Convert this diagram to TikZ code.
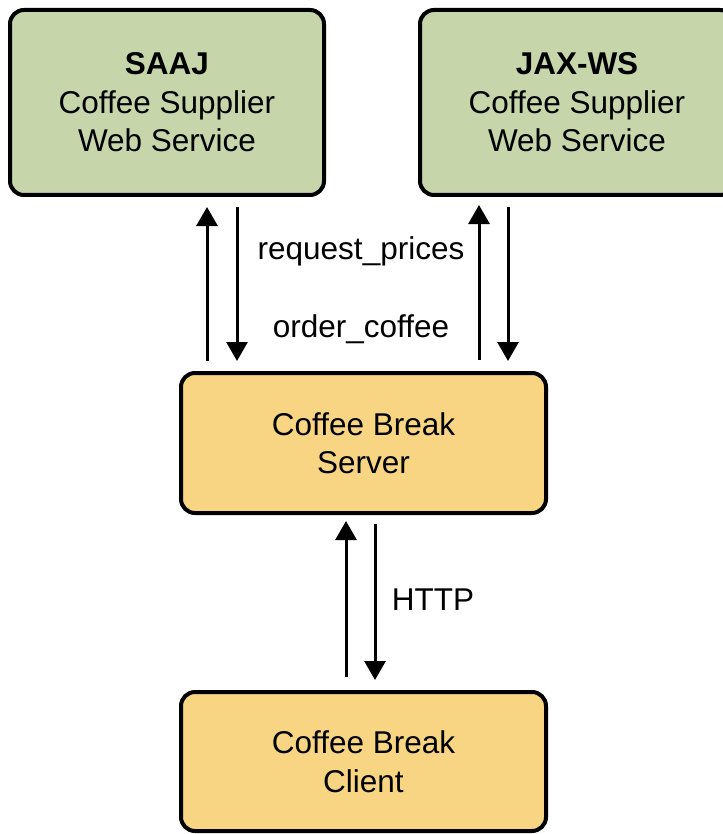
\documentclass[tikz,border=0pt]{standalone}
\usepackage{fontspec}
\setmainfont{Liberation Sans}
\usetikzlibrary{arrows.meta,calc}
\definecolor{boxgreen}{RGB}{198,214,170}
\definecolor{boxyellow}{RGB}{247,213,131}
\begin{document}
\begin{tikzpicture}[x=1pt,y=-1pt,
  box/.style={draw=black, line width=4pt, rounded corners=14pt, align=center,
    inner sep=0pt, font=\fontsize{31.5}{38.5}\selectfont},
  greenbox/.style={box, fill=boxgreen, minimum width=314pt, minimum height=185pt},
  yellowbox/.style={box, fill=boxyellow, minimum width=365pt, minimum height=140pt},
  arr/.style={line width=3pt, -{Triangle[length=19pt,width=21pt]}},
  lbl/.style={font=\fontsize{31.5}{38.5}\selectfont, inner sep=0pt, anchor=base}]
\useasboundingbox (0,0) rectangle (722,834);
\node[greenbox] (saaj) at (167,102.5) {\textbf{SAAJ}\\Coffee Supplier\\Web Service};
\node[greenbox] (jax) at (577,102.5) {\textbf{JAX-WS}\\Coffee Supplier\\Web Service};
\node[yellowbox] (srv) at (363.5,443) {Coffee Break\\Server};
\node[yellowbox, minimum height=139pt] (cli) at (363.5,761.5) {Coffee Break\\Client};
\draw[arr] ($(srv.north)+(-156.5,-10)$) -- ($(saaj.south)+(40,10)$);
\draw[arr] ($(saaj.south)+(70,10)$) -- ($(srv.north)+(-126.5,-10)$);
\draw[arr] ($(srv.north)+(115.5,-11)$) -- ($(jax.south)+(-98,8)$);
\draw[arr] ($(jax.south)+(-69,10)$) -- ($(srv.north)+(144.5,-10)$);
\draw[arr] ($(cli.north)+(-17.5,-13)$) -- ($(srv.south)+(-17.5,6)$);
\draw[arr] ($(srv.south)+(11.5,9)$) -- ($(cli.north)+(11.5,-10)$);
\node[lbl] (rp) at (361,259) {request\_prices};
\node[lbl] (oc) at (361,337) {order\_coffee};
\node[lbl] (http) at (433,610) {HTTP};
\end{tikzpicture}
\end{document}
